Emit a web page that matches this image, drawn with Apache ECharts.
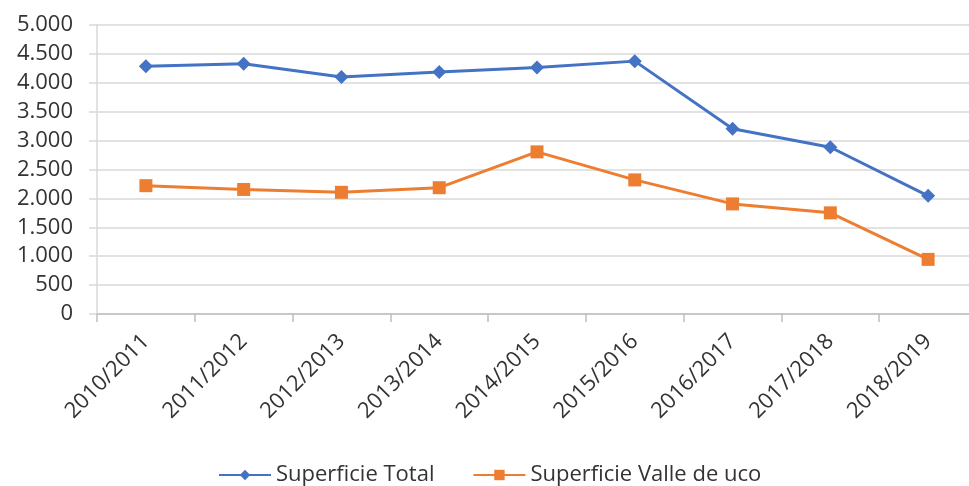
<!DOCTYPE html>
<html>
<head>
<meta charset="utf-8">
<script src="https://cdn.jsdelivr.net/npm/echarts@6/dist/echarts.min.js"></script>
<style>
  html, body { margin: 0; padding: 0; background: #fff; }
  #chart { width: 969px; height: 486px; }
</style>
</head>
<body>
<div id="chart"></div>
<script>
// campaigns
const seasons = ["2010/2011", "2011/2012", "2012/2013", "2013/2014", "2014/2015",
  "2015/2016", "2016/2017", "2017/2018", "2018/2019"];
// Superficie Total
const totalArea = [4285, 4330, 4100, 4185, 4265, 4375, 3205, 2885, 2045];
// Superficie Valle de uco
const ucoArea = [2220, 2155, 2105, 2185, 2805, 2320, 1905, 1750, 945];

const textColor = "#333333";
const fontFamily = "'Open Sans', sans-serif";

// 4500 -> "4.500"
const fmtThousands = (v) => String(v).replace(/\B(?=(\d{3})+(?!\d))/g, ".");

const chart = echarts.init(document.getElementById("chart"));
chart.setOption({
  animation: false,
  textStyle: { fontFamily: fontFamily, color: textColor },
  grid: { left: 97, right: -8, top: 25, bottom: 172, outerBoundsMode: "none" },
  legend: {
    left: 213,
    top: 459,
    itemWidth: 52,
    itemHeight: 13,
    itemGap: 38,
    textStyle: { fontSize: 22, color: textColor, fontFamily: fontFamily },
    data: ["Superficie Total", "Superficie Valle de uco"],
  },
  xAxis: {
    type: "category",
    data: seasons,
    boundaryGap: true,
    axisLine: { lineStyle: { color: "#bfbfbf", width: 1.5 } },
    axisTick: { show: true, length: 8, lineStyle: { color: "#bfbfbf", width: 1.5 } },
    axisLabel: { rotate: 45, margin: 24, fontSize: 22, color: textColor, interval: 0 },
  },
  yAxis: {
    type: "value",
    min: 0,
    max: 5000,
    interval: 500,
    axisLine: { show: true, lineStyle: { color: "#d9d9d9", width: 1.5 } },
    axisTick: { show: true, length: 8, lineStyle: { color: "#d9d9d9", width: 1.5 } },
    splitLine: { lineStyle: { color: "#d9d9d9", width: 1.5 } },
    axisLabel: { fontSize: 22, color: textColor, margin: 24, formatter: fmtThousands },
  },
  series: [
    {
      name: "Superficie Total",
      type: "line",
      data: totalArea,
      symbol: "diamond",
      symbolSize: 14,
      itemStyle: { color: "#4472C4" },
      lineStyle: { color: "#4472C4", width: 3 },
    },
    {
      name: "Superficie Valle de uco",
      type: "line",
      data: ucoArea,
      symbol: "rect",
      symbolSize: 13,
      itemStyle: { color: "#ED7D31" },
      lineStyle: { color: "#ED7D31", width: 3 },
    },
  ],
});
</script>
</body>
</html>
